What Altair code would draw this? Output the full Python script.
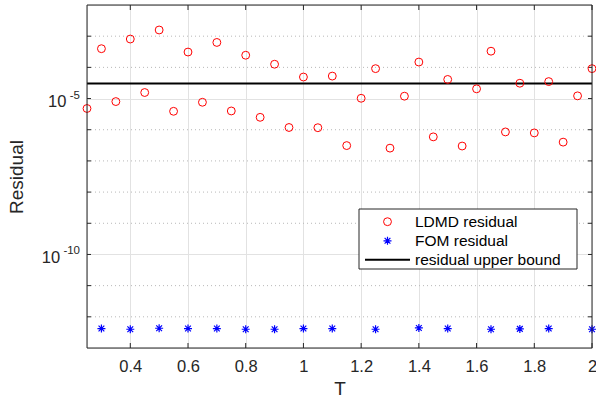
import altair as alt
import pandas as pd

# ---------------- data ----------------
T_LDMD = [0.25, 0.30, 0.35, 0.40, 0.45, 0.50, 0.55, 0.60, 0.65, 0.70, 0.75, 0.80,
          0.85, 0.90, 0.95, 1.00, 1.05, 1.10, 1.15, 1.20, 1.25, 1.30, 1.35, 1.40,
          1.45, 1.50, 1.55, 1.60, 1.65, 1.70, 1.75, 1.80, 1.85, 1.90, 1.95, 2.00]
LDMD_RES = [4.8e-6, 3.97e-4, 8.0e-6, 8.1e-4, 1.56e-5, 1.58e-3, 3.9e-6, 3.1e-4,
            7.6e-6, 6.3e-4, 4.0e-6, 2.45e-4, 2.5e-6, 1.26e-4, 1.18e-6, 4.9e-5,
            1.16e-6, 5.25e-5, 3.1e-7, 1.02e-5, 9.1e-5, 2.57e-7, 1.19e-5, 1.48e-4,
            5.9e-7, 4.1e-5, 3.0e-7, 2.05e-5, 3.3e-4, 8.5e-7, 3.1e-5, 7.9e-7,
            3.5e-5, 4.0e-7, 1.22e-5, 9.1e-5]
T_FOM = [0.3, 0.4, 0.5, 0.6, 0.7, 0.8, 0.9, 1.0, 1.1, 1.25, 1.4, 1.5, 1.65, 1.75, 1.85, 2.0]
FOM_RES = [4.2e-13, 4.0e-13, 4.3e-13, 4.2e-13, 4.2e-13, 4.0e-13, 4.0e-13, 4.2e-13,
           4.2e-13, 4.0e-13, 4.4e-13, 4.2e-13, 4.0e-13, 4.1e-13, 4.2e-13, 4.0e-13]
UPPER_BOUND = 3.05e-5
X_TICKS = [0.4, 0.6, 0.8, 1.0, 1.2, 1.4, 1.6, 1.8, 2.0]
Y_DECADES = [1e-12, 1e-11, 1e-10, 1e-9, 1e-8, 1e-7, 1e-6, 1e-5, 1e-4, 1e-3]
Y_MAJOR = [1e-10, 1e-5]
Y_LABEL_BASE = ["10", "10"]
Y_LABEL_EXP = ["-10", "-5"]
LEGEND_LABELS = ["LDMD residual", "FOM residual", "residual upper bound"]

# ---------------- layout / style ----------------
W, H = 505, 343
FONT = "Liberation Sans"
INK = "#262626"
xs = alt.Scale(domain=[0.25, 2.0], nice=False, zero=False)
ys = alt.Scale(type="log", domain=[1e-13, 1e-2], nice=False)

ldmd_df = pd.DataFrame({"T": T_LDMD, "res": LDMD_RES})
fom_df = pd.DataFrame({"T": T_FOM, "res": FOM_RES})
xt_df = pd.DataFrame({"T": X_TICKS})
dec_df = pd.DataFrame({"v": Y_DECADES})
minor_df = pd.DataFrame({"v": [d for d in Y_DECADES if d not in Y_MAJOR]})
ub_df = pd.DataFrame({"v": [UPPER_BOUND]})
one = pd.DataFrame({"a": [0]})

ASTERISK = "M-1,0L1,0M0,-1L0,1M-0.72,-0.72L0.72,0.72M-0.72,0.72L0.72,-0.72"

x_axis = alt.Axis(values=X_TICKS, format="~g", title="T", grid=True, gridColor="#e2e2e2",
                  gridWidth=1, ticks=False, domain=False, labelFontSize=16.5, labelPadding=10,
                  labelFont=FONT, labelColor=INK, labelFlush=False,
                  titleFont=FONT, titleFontSize=19, titleFontWeight="normal",
                  titleColor=INK, titleY=31, titleBaseline="top")
y_axis = alt.Axis(values=Y_MAJOR, labels=False, ticks=False, domain=False, grid=True,
                  gridColor="#e2e2e2", gridWidth=1,
                  title="Residual", titleFont=FONT, titleFontSize=19,
                  titleFontWeight="normal", titleColor=INK,
                  titleX=-61, titleY=H / 2)

layers = []

# invisible base layer carrying both axes and major grid
layers.append(alt.Chart(ldmd_df).mark_point(opacity=0).encode(
    x=alt.X("T:Q", scale=xs, axis=x_axis),
    y=alt.Y("res:Q", scale=ys, axis=y_axis)))

# y minor dotted grid
layers.append(alt.Chart(minor_df).mark_rule(color="#b8b8b8", strokeWidth=1,
                                             strokeDash=[1, 3]).encode(
    y=alt.Y("v:Q")))

# inward ticks
layers.append(alt.Chart(xt_df).mark_rule(color=INK).encode(
    x=alt.X("T:Q"), y=alt.value(H), y2=alt.value(H - 5)))
layers.append(alt.Chart(xt_df).mark_rule(color=INK).encode(
    x=alt.X("T:Q"), y=alt.value(0), y2=alt.value(5)))
layers.append(alt.Chart(dec_df).mark_rule(color=INK).encode(
    y=alt.Y("v:Q"), x=alt.value(0), x2=alt.value(4)))
layers.append(alt.Chart(dec_df).mark_rule(color=INK).encode(
    y=alt.Y("v:Q"), x=alt.value(W), x2=alt.value(W - 4)))

# upper bound line
layers.append(alt.Chart(ub_df).mark_rule(color="black", strokeWidth=2).encode(
    y=alt.Y("v:Q")))

# LDMD circles
layers.append(alt.Chart(ldmd_df).mark_point(shape="circle", filled=False, color="#ff0000",
                                            size=62, strokeWidth=1, opacity=1).encode(
    x=alt.X("T:Q"), y=alt.Y("res:Q")))

# FOM asterisks
layers.append(alt.Chart(fom_df).mark_point(shape=ASTERISK, filled=False, color="#0000ff",
                                           size=64, strokeWidth=1.2, opacity=1).encode(
    x=alt.X("T:Q"), y=alt.Y("res:Q")))

# y tick labels as 10^k
for v, b, e in zip(Y_MAJOR, Y_LABEL_BASE, Y_LABEL_EXP):
    d = pd.DataFrame({"v": [v], "b": [b], "e": [e]})
    exp_w = 6.3 * len(e)
    layers.append(alt.Chart(d).mark_text(font=FONT, fontSize=16.5, color=INK, align="right",
                                         baseline="middle", dy=3.5, dx=-8 - exp_w).encode(
        x=alt.value(0), y=alt.Y("v:Q"), text="b:N"))
    layers.append(alt.Chart(d).mark_text(font=FONT, fontSize=11.5, color=INK, align="right",
                                         baseline="middle", dy=-3, dx=-7).encode(
        x=alt.value(0), y=alt.Y("v:Q"), text="e:N"))

# frame
layers.append(alt.Chart(one).mark_rect(fill=None, stroke=INK, strokeWidth=1).encode(
    x=alt.value(0), x2=alt.value(W), y=alt.value(0), y2=alt.value(H)))

# legend
LX0, LX1, LY0, LY1 = 272, 490, 204, 264
layers.append(alt.Chart(one).mark_rect(fill="white", stroke=INK, strokeWidth=1).encode(
    x=alt.value(LX0), x2=alt.value(LX1), y=alt.value(LY0), y2=alt.value(LY1)))
row_y = [216.7, 235.8, 254.7]
layers.append(alt.Chart(one).mark_point(shape="circle", filled=False, color="#ff0000",
                                        size=62, strokeWidth=1, opacity=1).encode(
    x=alt.value(300.5), y=alt.value(row_y[0])))
layers.append(alt.Chart(one).mark_point(shape=ASTERISK, filled=False, color="#0000ff",
                                        size=64, strokeWidth=1.2, opacity=1).encode(
    x=alt.value(300.5), y=alt.value(row_y[1])))
layers.append(alt.Chart(one).mark_rule(color="black", strokeWidth=2).encode(
    x=alt.value(278), x2=alt.value(323), y=alt.value(row_y[2])))
for i, lab in enumerate(LEGEND_LABELS):
    d = pd.DataFrame({"lab": [lab]})
    layers.append(alt.Chart(d).mark_text(font=FONT, fontSize=15.5, color="black",
                                         align="left", baseline="middle").encode(
        x=alt.value(328), y=alt.value(row_y[i]), text="lab:N"))

chart = alt.layer(*layers).properties(
    width=W, height=H,
    autosize=alt.AutoSizeParams(type="none"),
    padding={"left": 87, "top": 5, "right": 4, "bottom": 49},
).configure_view(stroke=None).configure(background="white")

chart.save("out.html", embed_options={"renderer": "svg", "actions": False})
